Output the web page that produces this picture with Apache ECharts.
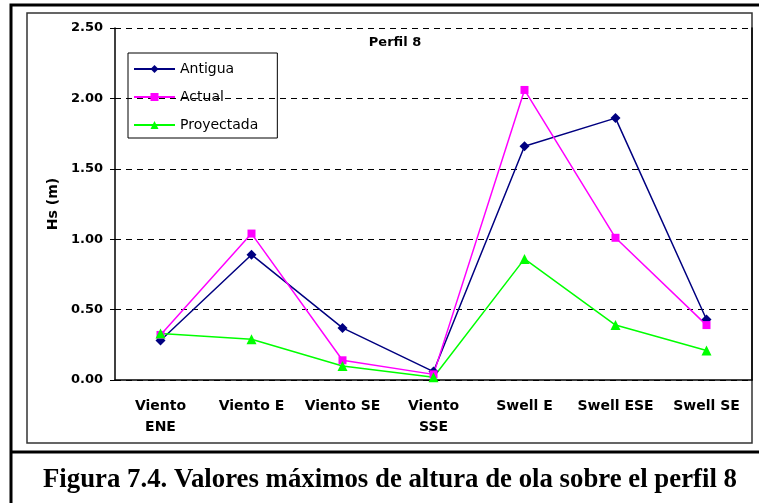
<!DOCTYPE html>
<html>
<head>
<meta charset="utf-8">
<script src="https://cdn.jsdelivr.net/npm/echarts@6/dist/echarts.min.js"></script>
<style>
  html, body { margin: 0; padding: 0; background: #fff; }
  #chart { width: 759px; height: 503px; }
</style>
</head>
<body>
<div id="chart"></div>
<script>
var categories = ["Viento\nENE", "Viento E", "Viento SE", "Viento\nSSE", "Swell E", "Swell ESE", "Swell SE"];
var antigua = [0.28, 0.89, 0.37, 0.06, 1.66, 1.86, 0.43];
var actual = [0.32, 1.04, 0.14, 0.04, 2.06, 1.01, 0.39];
var proyectada = [0.33, 0.29, 0.10, 0.02, 0.86, 0.39, 0.21];
var yTicks = [0, 0.5, 1.0, 1.5, 2.0, 2.5];

var chart = echarts.init(document.getElementById("chart"));
var axisFont = "DejaVu Sans, Arial, sans-serif";

chart.setOption({
  animation: false,
  backgroundColor: "#fff",
  title: {
    text: "Perfil 8",
    left: 390,
    top: 31,
    textAlign: "center",
    textStyle: { fontFamily: axisFont, fontSize: 13, fontWeight: "bold", color: "#000" }
  },
  legend: {
    orient: "vertical",
    left: 128,
    top: 53,
    padding: [9, 19, 6, 5],
    borderColor: "#000",
    borderWidth: 1,
    itemWidth: 41,
    itemHeight: 10,
    itemGap: 14,
    textStyle: { fontFamily: axisFont, fontSize: 14, color: "#000" },
    data: ["Antigua", "Actual", "Proyectada"]
  },
  grid: { left: 115, right: 7, top: 28, bottom: 123 },
  xAxis: {
    type: "category",
    data: categories,
    axisLine: { lineStyle: { color: "#000", width: 1.5 } },
    axisTick: { length: 5, lineStyle: { color: "#000" } },
    axisLabel: {
      interval: 0,
      margin: 16,
      fontFamily: axisFont,
      fontSize: 14,
      fontWeight: "bold",
      lineHeight: 21,
      color: "#000"
    }
  },
  yAxis: [
    {
      type: "value",
      min: 0,
      max: 2.5,
      interval: 0.5,
      name: "Hs (m)",
      nameLocation: "middle",
      nameGap: 55,
      nameTextStyle: { fontFamily: axisFont, fontSize: 14, fontWeight: "bold", color: "#000" },
      axisLine: { show: true, lineStyle: { color: "#000", width: 1.5 } },
      axisTick: { show: true, length: 5, lineStyle: { color: "#000" } },
      axisLabel: {
        margin: 12,
        fontFamily: axisFont,
        fontSize: 13,
        fontWeight: "bold",
        color: "#000",
        formatter: function (v) { return v.toFixed(2); }
      },
      splitLine: { show: true, lineStyle: { color: "#000", type: [6, 5], width: 1 } }
    },
    {
      type: "value",
      min: 0,
      max: 2.5,
      interval: 0.5,
      position: "right",
      axisLine: { show: true, lineStyle: { color: "#000", width: 1.5 } },
      axisTick: { show: false },
      axisLabel: { show: false },
      splitLine: { show: false }
    }
  ],
  series: [
    {
      name: "Antigua",
      type: "line",
      data: antigua,
      symbol: "diamond",
      symbolSize: 10,
      color: "#000080",
      lineStyle: { width: 1.5, color: "#000080" },
      itemStyle: { color: "#000080" }
    },
    {
      name: "Actual",
      type: "line",
      data: actual,
      symbol: "rect",
      symbolSize: 8,
      color: "#ff00ff",
      lineStyle: { width: 1.5, color: "#ff00ff" },
      itemStyle: { color: "#ff00ff" }
    },
    {
      name: "Proyectada",
      type: "line",
      data: proyectada,
      symbol: "triangle",
      symbolSize: 10,
      color: "#00ff00",
      lineStyle: { width: 1.5, color: "#00ff00" },
      itemStyle: { color: "#00ff00" }
    }
  ],
  graphic: [
    // outer frame (right side runs off the picture)
    { type: "polyline", shape: { points: [[11, 503], [11, 5], [759, 5]] }, style: { stroke: "#000", lineWidth: 3, fill: null }, silent: true },
    { type: "line", shape: { x1: 11, y1: 452, x2: 759, y2: 452 }, style: { stroke: "#000", lineWidth: 3 }, silent: true },
    // chart area frame
    { type: "rect", shape: { x: 27, y: 13, width: 725, height: 430 }, style: { stroke: "#333", lineWidth: 1.5, fill: null }, silent: true, z: -1 },
    {
      type: "text",
      left: 43,
      top: 467,
      style: {
        text: "Figura 7.4. Valores máximos de altura de ola sobre el perfil 8",
        font: "bold 26.8px 'Liberation Serif', 'Times New Roman', serif",
        fill: "#000"
      }
    }
  ]
});
</script>
</body>
</html>
